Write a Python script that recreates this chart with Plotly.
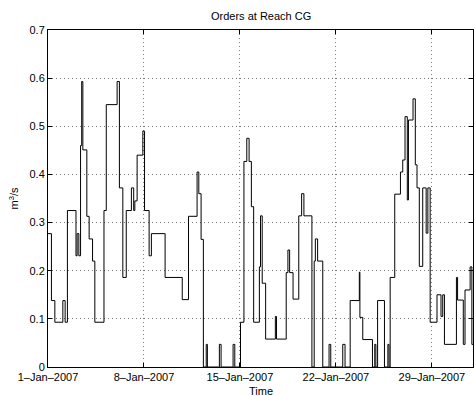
import pandas as pd
import plotly.graph_objects as go

# Step start times (hours after 1-Jan-2007 00:00) and order values (m^3/s)
hours = [0, 6, 12, 26, 30, 34, 49, 51, 54, 57, 59, 61, 68, 72, 78, 82, 98, 102, 121, 125,
         131, 137, 146, 150, 152, 156, 166, 169, 177, 181, 205, 235, 246, 261, 264, 268, 272, 277, 279, 300,
         303, 324, 327, 337, 343, 348, 352, 356, 360, 370, 372, 375, 381, 398, 400, 417, 420, 423, 429, 439,
         444, 448, 462, 466, 468, 472, 481, 492, 495, 516, 520, 529, 545, 546, 551, 568, 572, 574, 577, 589,
         595, 597, 599, 607, 617, 621, 625, 629, 631, 639, 643, 646, 650, 656, 662, 665, 669, 681, 688, 691,
         694, 715, 717, 727, 730, 739, 742, 744]
orders = [0.277, 0.138, 0.093, 0.138, 0.093, 0.325, 0.231, 0.277, 0.231, 0.46, 0.593, 0.451, 0.313, 0.266, 0.22, 0.093, 0.325, 0.545, 0.593, 0.372,
          0.186, 0.325, 0.372, 0.325, 0.345, 0.44, 0.49, 0.325, 0.231, 0.277, 0.186, 0.14, 0.313, 0.405, 0.36, 0.265, 0.0, 0.047, 0.0, 0.047,
          0.0, 0.047, 0.0, 0.093, 0.427, 0.475, 0.427, 0.333, 0.093, 0.208, 0.314, 0.174, 0.058, 0.105, 0.058, 0.196, 0.243, 0.196, 0.141, 0.314,
          0.36, 0.314, 0.0, 0.22, 0.266, 0.22, 0.0, 0.047, 0.0, 0.047, 0.0, 0.138, 0.197, 0.103, 0.057, 0.0, 0.047, 0.0, 0.138, 0.0,
          0.047, 0.0, 0.186, 0.359, 0.405, 0.43, 0.52, 0.347, 0.513, 0.557, 0.42, 0.372, 0.209, 0.372, 0.278, 0.372, 0.093, 0.15, 0.105, 0.15,
          0.047, 0.186, 0.139, 0.047, 0.16, 0.208, 0.047, 0.047]

tick_dates = ["2007-01-01", "2007-01-08", "2007-01-15", "2007-01-22", "2007-01-29"]
tick_labels = ["1\u2013Jan\u20132007", "8\u2013Jan\u20132007", "15\u2013Jan\u20132007",
               "22\u2013Jan\u20132007", "29\u2013Jan\u20132007"]
y_ticks = [0, 0.1, 0.2, 0.3, 0.4, 0.5, 0.6, 0.7]
y_labels = ["0", "0.1", "0.2", "0.3", "0.4", "0.5", "0.6", "0.7"]

start = pd.Timestamp("2007-01-01")
times = [start + pd.Timedelta(hours=h) for h in hours]

fig = go.Figure()
fig.add_trace(go.Scatter(x=times, y=orders, mode="lines", line_shape="hv",
                         line=dict(color="black", width=1), showlegend=False,
                         hoverinfo="skip"))

font = dict(family="Liberation Sans, Arial, Helvetica, sans-serif", size=11, color="black")
fig.update_layout(
    width=475, height=396,
    margin=dict(l=48, r=2, t=30, b=29, autoexpand=False),
    paper_bgcolor="white", plot_bgcolor="white",
    font=font,
    annotations=[
        dict(text="Orders at Reach CG", xref="paper", yref="paper", x=0.5, y=1,
             yshift=14, xanchor="center", yanchor="middle", showarrow=False, font=dict(size=11)),
        dict(text="Time", xref="paper", yref="paper", x=0.5, y=0,
             yshift=-24, xanchor="center", yanchor="middle", showarrow=False, font=dict(size=11)),
        dict(text="m<sup>3</sup>/s", xref="paper", yref="paper", x=0, y=0.5,
             xshift=-35, xanchor="center", yanchor="middle", textangle=-90,
             showarrow=False, font=dict(size=11)),
    ],
)
fig.update_xaxes(
    range=[pd.Timestamp("2007-01-01"), pd.Timestamp("2007-02-01")],
    tickvals=pd.to_datetime(tick_dates), ticktext=tick_labels,
    ticks="inside", ticklen=4, tickcolor="black",
    showline=True, linecolor="black", linewidth=1, mirror="ticks",
    showgrid=True, gridcolor="#777777", griddash="1px,3px", gridwidth=1,
    zeroline=False, automargin=False,
)
fig.update_yaxes(
    range=[0, 0.7], tickvals=y_ticks, ticktext=y_labels,
    ticks="inside", ticklen=4, tickcolor="black",
    showline=True, linecolor="black", linewidth=1, mirror="ticks",
    showgrid=True, gridcolor="#777777", griddash="1px,3px", gridwidth=1,
    zeroline=False, automargin=False,
)
fig.write_html("out.html", config={"displayModeBar": False},
               post_script="document.body.style.margin='0';document.body.style.overflow='hidden';")
